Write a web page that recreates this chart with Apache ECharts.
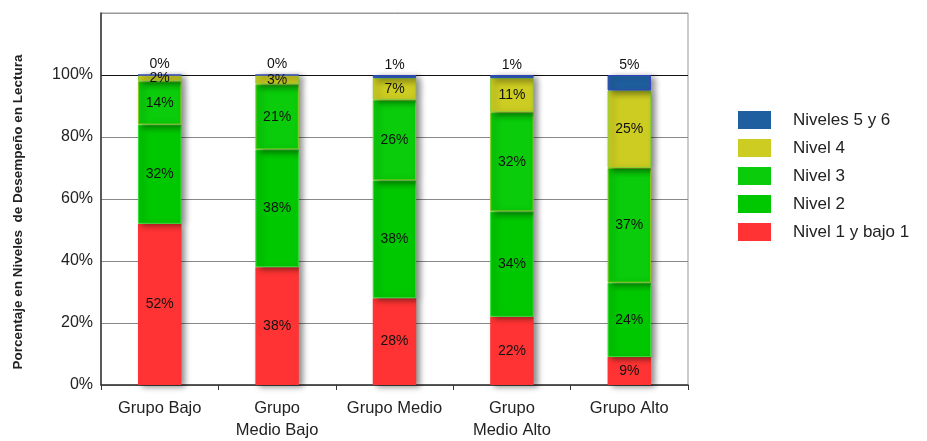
<!DOCTYPE html>
<html><head><meta charset="utf-8">
<script src="https://cdn.jsdelivr.net/npm/echarts@6/dist/echarts.min.js"></script>
<style>html,body{margin:0;padding:0;background:#fff}#c{width:927px;height:441px}</style>
</head><body><div id="c"></div>
<script>
const categories = ['Grupo Bajo', 'Grupo\nMedio Bajo', 'Grupo Medio', 'Grupo\nMedio Alto', 'Grupo Alto'];
const nivel1 = [52, 38, 28, 22, 9];
const nivel2 = [32, 38, 38, 34, 24];
const nivel3 = [14, 21, 26, 32, 37];
const nivel4 = [2, 3, 7, 11, 25];
const nivel56 = [0, 0, 1, 1, 5];
const yTicks = [0, 20, 40, 60, 80, 100];
const yTitle = 'Porcentaje en Niveles  de Desempeño en Lectura';

const chart = echarts.init(document.getElementById('c'));
const shadow = {shadowColor: 'rgba(0,0,0,0.45)', shadowBlur: 6, shadowOffsetX: 4, shadowOffsetY: 2};
const FONT = 'Liberation Sans, Arial';
function mk(name, data, color, border, labelPos) {
  return {
    name, type: 'bar', stack: 'a', data, barWidth: '37%',
    itemStyle: Object.assign({color, borderColor: border, borderWidth: border ? 1 : 0}, shadow),
    label: {show: true, position: labelPos || 'inside', formatter: '{c}%', color: '#111',
      fontFamily: FONT, fontSize: 14, distance: 3}
  };
}
chart.setOption({
  animation: false,
  grid: {left: 101, right: 239, top: 13, bottom: 56, show: true, borderColor: '#999', borderWidth: 1},
  graphic: [{
    type: 'text', x: 18, y: 212, rotation: Math.PI / 2,
    style: {text: yTitle, fontSize: 13.5, fontWeight: 'bold', fill: '#222', fontFamily: FONT,
      align: 'center', verticalAlign: 'middle'}
  }],
  legend: {
    orient: 'vertical', left: 733, top: 106, itemWidth: 33, itemHeight: 18, itemGap: 10, icon: 'rect',
    data: ['Niveles 5 y 6', 'Nivel 4', 'Nivel 3', 'Nivel 2', 'Nivel 1 y bajo 1'],
    itemStyle: {borderWidth: 0},
    textStyle: {fontSize: 17, lineHeight: 18, color: '#222', fontFamily: FONT, padding: [0, 0, 0, 17]}
  },
  xAxis: {
    type: 'category', data: categories,
    axisLine: {lineStyle: {color: '#333', width: 1.5}},
    axisTick: {show: true, interval: 0, alignWithLabel: false, length: 5, lineStyle: {color: '#333'}},
    axisLabel: {interval: 0, hideOverlap: false, fontSize: 16.5, color: '#222', fontFamily: FONT, lineHeight: 22, margin: 12}
  },
  yAxis: {
    type: 'value', min: 0, max: 120, interval: 20,
    axisLine: {show: true, lineStyle: {color: '#333', width: 1.5}},
    axisTick: {show: false},
    axisLabel: {fontSize: 16, color: '#222', fontFamily: FONT, margin: 8,
      formatter: v => yTicks.includes(v) ? v + '%' : ''},
    splitLine: {show: true, lineStyle: {color: ['#888', '#888', '#888', '#888', '#888', '#111', '#999'], width: 1}}
  },
  series: [
    mk('Nivel 1 y bajo 1', nivel1, '#ff3333'),
    mk('Nivel 2', nivel2, '#00c800', '#33dd33'),
    mk('Nivel 3', nivel3, '#0acc0a', '#88cc22'),
    mk('Nivel 4', nivel4, '#cccc22', '#88d030'),
    mk('Niveles 5 y 6', nivel56, '#1f5f9f', '#3344bb', 'top')
  ]
});
</script></body></html>
